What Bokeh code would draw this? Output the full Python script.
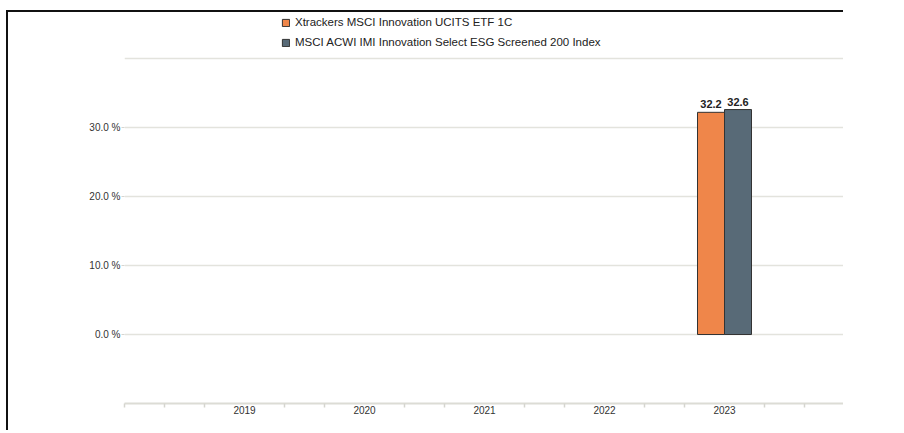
from bokeh.plotting import figure
from bokeh.models import (FixedTicker, PrintfTickFormatter, ColumnDataSource,
                          Legend, LegendItem, Range1d)
from bokeh.core.properties import value
from bokeh.embed import file_html
from bokeh.resources import INLINE

# ---- data ----
years = ["2019", "2020", "2021", "2022", "2023"]
etf_returns = [None, None, None, None, 32.2]
index_returns = [None, None, None, None, 32.6]
series_names = ["Xtrackers MSCI Innovation UCITS ETF 1C",
                "MSCI ACWI IMI Innovation Select ESG Screened 200 Index"]
series_colors = ["#ef864a", "#586a77"]
y_ticks = [0, 10, 20, 30]
y_grid = [0, 10, 20, 30, 40]

FONT = "Liberation Sans"
BAR_W = 0.225

# layout (pixels)
FRAME_H = 391
PX_PER_UNIT = 6.9
Y_MIN = -10
Y_MAX = Y_MIN + FRAME_H / PX_PER_UNIT   # extra headroom for the legend

def make_source(vals, shift):
    xs, tops, labels = [], [], []
    for i, v in enumerate(vals):
        if v is None:
            continue
        xs.append(i + 1 + shift)
        tops.append(v)
        labels.append(f"{v:.1f}")
    return ColumnDataSource(dict(x=xs, top=tops, label=labels))

p = figure(width=837, height=FRAME_H + 29, x_range=Range1d(0, len(years) + 1),
           y_range=Range1d(Y_MIN, Y_MAX), output_backend="svg", toolbar_location=None,
           min_border_left=116, min_border_right=1, min_border_top=0,
           min_border_bottom=29)
p.styles = {"margin-left": "6px", "margin-top": "10px",
            "border-top": "2px solid #111", "border-left": "2px solid #111"}
p.outline_line_color = None
p.background_fill_color = "white"
p.border_fill_color = "white"

renderers = []
for vals, shift, color in [(etf_returns, -BAR_W / 2, series_colors[0]),
                           (index_returns, BAR_W / 2, series_colors[1])]:
    src = make_source(vals, shift)
    r = p.vbar(x="x", top="top", bottom=0, width=BAR_W, source=src,
               fill_color=color, line_color="#333333", line_width=1)
    renderers.append(r)
    p.text(x="x", y="top", text="label", source=src, text_align="center",
           text_baseline="bottom", y_offset=-4, text_font=value(FONT),
           text_font_size="11px", text_font_style="bold", text_color="#222222")

# y axis
p.yaxis.ticker = FixedTicker(ticks=y_ticks)
p.yaxis.formatter = PrintfTickFormatter(format="%.1f %%")
p.yaxis.major_label_text_font = FONT
p.yaxis.major_label_text_font_size = "10px"
p.yaxis.major_label_text_color = "#333333"
p.yaxis.axis_line_color = None
p.yaxis.major_tick_out = 3
p.yaxis.major_tick_in = 0
p.yaxis.major_tick_line_color = "#d5d5d0"
p.yaxis.minor_tick_line_color = None
p.yaxis.major_label_standoff = 1

p.ygrid.ticker = FixedTicker(ticks=y_grid)
p.ygrid.grid_line_color = "#e3e3dd"
p.ygrid.grid_line_width = 1.5
p.xgrid.grid_line_color = None

# x axis
n = len(years) + 1
minor = [k / 3 for k in range(3 * n + 1) if k % 3 != 0 or k in (0, 3 * n)]
p.xaxis.ticker = FixedTicker(ticks=list(range(1, len(years) + 1)), minor_ticks=minor)
p.xaxis.major_label_overrides = {i + 1: y for i, y in enumerate(years)}
p.xaxis.major_label_text_font = FONT
p.xaxis.major_label_text_font_size = "10px"
p.xaxis.major_label_text_color = "#333333"
p.xaxis.axis_line_color = "#dcdcd5"
p.xaxis.axis_line_width = 2
p.xaxis.major_tick_out = 0
p.xaxis.major_tick_in = 0
p.xaxis.minor_tick_out = 4
p.xaxis.minor_tick_in = 0
p.xaxis.minor_tick_line_color = "#d5d5cf"
p.xaxis.minor_tick_line_width = 1.5
p.xaxis.major_label_standoff = -2

legend = Legend(items=[LegendItem(label=series_names[0], renderers=[renderers[0]]),
                       LegendItem(label=series_names[1], renderers=[renderers[1]])],
                location=(157, 354), orientation="vertical",
                background_fill_alpha=0, border_line_color=None,
                padding=0, margin=0, glyph_width=9, glyph_height=9,
                label_height=14, spacing=6, label_standoff=5,
                label_text_font=FONT, label_text_font_size="11.5px",
                label_text_color="#222222")
p.add_layout(legend)

open("out.html", "w").write(file_html(p, INLINE))
